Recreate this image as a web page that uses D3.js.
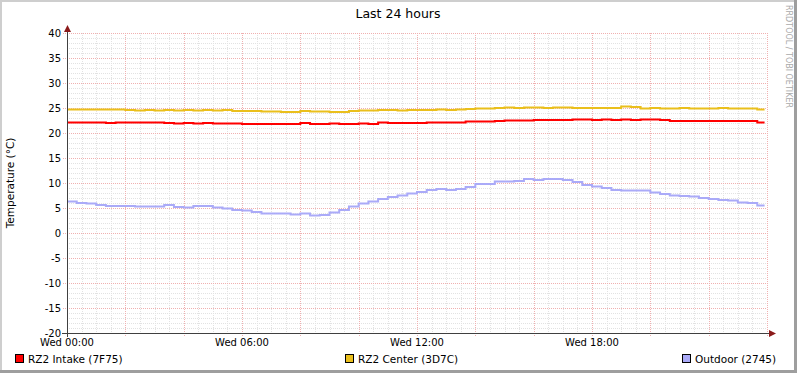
<!DOCTYPE html>
<html>
<head>
<meta charset="utf-8">
<script src="https://cdn.jsdelivr.net/npm/d3@7"></script>
<style>
  body { margin: 0; background: #fff; }
  text { font-family: "DejaVu Sans", sans-serif; }
</style>
</head>
<body>
<div id="chart"></div>
<script>
let width = 797,
  height = 373;

// readings every 20 minutes, starting Wed 00:00
let intake = [22.1, 22.1, 22.1, 22.1, 22.0, 22.1, 22.1, 22.1, 22.1, 22.1,
  22.0, 21.9, 22.0, 21.9, 22.0, 21.9, 21.9, 21.9, 21.8, 21.8,
  21.8, 21.8, 21.8, 21.8, 22.0, 21.8, 21.8, 21.9, 21.8, 21.8,
  21.9, 21.8, 22.1, 22.0, 22.0, 22.0, 22.0, 22.1, 22.1, 22.1,
  22.1, 22.3, 22.3, 22.3, 22.4, 22.5, 22.5, 22.5, 22.6, 22.6,
  22.6, 22.6, 22.7, 22.7, 22.6, 22.7, 22.6, 22.7, 22.6, 22.7,
  22.7, 22.6, 22.4, 22.4, 22.4, 22.4, 22.4, 22.4, 22.4, 22.4,
  22.4, 22.1];

let center = [24.7, 24.7, 24.7, 24.7, 24.7, 24.7, 24.6, 24.5, 24.6, 24.5,
  24.6, 24.5, 24.6, 24.5, 24.6, 24.5, 24.6, 24.4, 24.4, 24.4,
  24.3, 24.3, 24.2, 24.2, 24.4, 24.3, 24.3, 24.2, 24.2, 24.4,
  24.5, 24.5, 24.6, 24.6, 24.5, 24.6, 24.6, 24.6, 24.7, 24.6,
  24.7, 24.8, 24.9, 24.9, 25.0, 25.1, 25.0, 25.1, 25.1, 25.0,
  25.1, 25.1, 25.0, 25.0, 25.0, 25.0, 25.0, 25.3, 25.2, 24.9,
  25.0, 24.9, 24.9, 25.0, 24.9, 24.9, 24.9, 25.0, 24.9, 24.9,
  24.9, 24.7];

let outdoor = [6.3, 6.0, 5.9, 5.6, 5.4, 5.4, 5.4, 5.3, 5.3, 5.3,
  5.6, 5.2, 5.1, 5.4, 5.4, 5.1, 4.9, 4.6, 4.5, 4.2,
  3.9, 3.9, 3.9, 3.7, 3.9, 3.5, 3.6, 4.1, 4.6, 5.3,
  5.9, 6.3, 6.8, 7.2, 7.5, 7.9, 8.2, 8.6, 8.8, 8.6,
  8.8, 9.2, 9.8, 9.8, 10.3, 10.3, 10.4, 10.8, 10.6, 10.8,
  10.8, 10.6, 10.2, 9.6, 9.3, 9.0, 8.6, 8.5, 8.5, 8.5,
  8.1, 7.8, 7.5, 7.4, 7.3, 7.0, 6.8, 6.6, 6.5, 6.1,
  6.0, 5.5];

let seriesNames = ["RZ2 Intake (7F75)", "RZ2 Center (3D7C)", "Outdoor (2745)"];
let seriesColors = ["#ff0000", "#eabf1c", "#aaaaf8"];
let yTicks = [-20, -15, -10, -5, 0, 5, 10, 15, 20, 25, 30, 35, 40];

let start = new Date(2024, 0, 3, 0, 0);   // a Wednesday
let end = d3.timeHour.offset(start, 24);
let step = 20; // minutes

let svg = d3.select("#chart")
  .append("svg")
  .attr("width", width)
  .attr("height", height);

// frame
svg.append("rect").attr("width", width).attr("height", height).attr("fill", "#fff");
svg.append("rect").attr("x", 0).attr("y", 0).attr("width", width).attr("height", 2).attr("fill", "#cecece");
svg.append("rect").attr("x", 0).attr("y", 0).attr("width", 2).attr("height", height).attr("fill", "#cecece");
svg.append("rect").attr("x", 0).attr("y", height - 3).attr("width", width).attr("height", 3).attr("fill", "#9e9e9e");
svg.append("rect").attr("x", width - 3).attr("y", 0).attr("width", 3).attr("height", height).attr("fill", "#9e9e9e");

let x = d3.scaleTime()
  .domain([start, end])
  .range([67, 767]);

let y = d3.scaleLinear()
  .domain([-20, 40])
  .range([333, 33]);

let px = v => Math.round(v) + 0.5;

// grid
let grid = svg.append("g").attr("shape-rendering", "crispEdges");
grid.selectAll(".hminor")
  .data(d3.range(-20, 41, 1).filter(v => v % 5 != 0))
  .join("line")
  .attr("x1", 67).attr("x2", 767)
  .attr("y1", d => px(y(d))).attr("y2", d => px(y(d)))
  .attr("stroke", "#e2e2e2")
  .attr("stroke-dasharray", "1,1");

grid.selectAll(".vminor")
  .data(x.ticks(d3.timeMinute.every(30)).filter(d => d.getHours() % 2 != 0 || d.getMinutes() != 0))
  .join("line")
  .attr("x1", d => px(x(d))).attr("x2", d => px(x(d)))
  .attr("y1", 33).attr("y2", 333)
  .attr("stroke", "#e2e2e2")
  .attr("stroke-dasharray", "1,1");

grid.selectAll(".hmajor")
  .data(yTicks)
  .join("line")
  .attr("x1", 63).attr("x2", 767)
  .attr("y1", d => px(y(d))).attr("y2", d => px(y(d)))
  .attr("stroke", "#f0b0b0")
  .attr("stroke-dasharray", "1,1");

grid.selectAll(".vmajor")
  .data(x.ticks(d3.timeHour.every(2)))
  .join("line")
  .attr("x1", d => px(x(d))).attr("x2", d => px(x(d)))
  .attr("y1", 33).attr("y2", 337)
  .attr("stroke", "#f0b0b0")
  .attr("stroke-dasharray", "1,1");

// lines
let line = d3.line()
  .x(d => x(d.t))
  .y(d => y(d.v))
  .curve(d3.curveStepAfter);

let lineEnd = d3.timeMinute.offset(end, -5);

[intake, center, outdoor].forEach((vals, k) => {
  let pts = vals.map((v, i) => ({ t: d3.timeMinute.offset(start, i * step), v: v }));
  pts.push({ t: lineEnd, v: vals[vals.length - 1] });
  svg.append("path")
    .datum(pts)
    .attr("fill", "none")
    .attr("stroke", seriesColors[k])
    .attr("stroke-width", 2)
    .attr("d", line);
});

// axes
svg.append("line")
  .attr("x1", 67.5).attr("x2", 67.5)
  .attr("y1", 337).attr("y2", 30)
  .attr("stroke", "#404040");
svg.append("line")
  .attr("x1", 62).attr("x2", 771)
  .attr("y1", 333.5).attr("y2", 333.5)
  .attr("stroke", "#404040");
svg.append("path")
  .attr("d", "M64,32 L71,32 L67.5,25 Z")
  .attr("fill", "#8b1a1a");
svg.append("path")
  .attr("d", "M769,330 L769,337 L776,333.5 Z")
  .attr("fill", "#8b1a1a");

// y tick labels
svg.selectAll(".ylab")
  .data(yTicks)
  .join("text")
  .attr("x", 61)
  .attr("y", d => y(d) + 3.5)
  .attr("text-anchor", "end")
  .style("font-size", "10px")
  .attr("fill", "#000")
  .text(d => d);

// x tick labels
let fmt = d3.timeFormat("%a %H:%M");
svg.selectAll(".xlab")
  .data(x.ticks(d3.timeHour.every(6)).filter(d => d < end))
  .join("text")
  .attr("x", d => x(d))
  .attr("y", 345.5)
  .attr("text-anchor", "middle")
  .style("font-size", "10px")
  .attr("fill", "#000")
  .text(d => fmt(d));

// title
svg.append("text")
  .attr("x", 398)
  .attr("y", 18)
  .attr("text-anchor", "middle")
  .style("font-size", "12.5px")
  .text("Last 24 hours");

svg.append("text")
  .attr("transform", "translate(14,183) rotate(-90)")
  .attr("text-anchor", "middle")
  .style("font-size", "10.5px")
  .text("Temperature (°C)");

svg.append("text")
  .attr("transform", "translate(786,5) rotate(90)")
  .style("font-size", "8px")
  .attr("fill", "#aaaaaa")
  .text("RRDTOOL / TOBI OETIKER");

// legend
let legX = [15, 345, 682];
let leg = svg.selectAll(".leg")
  .data(seriesNames)
  .join("g")
  .attr("transform", (d, i) => `translate(${legX[i]},354)`);
leg.append("rect")
  .attr("x", 0.5).attr("y", 0.5)
  .attr("width", 8).attr("height", 8)
  .attr("fill", (d, i) => seriesColors[i])
  .attr("stroke", "#000");
leg.append("text")
  .attr("x", 13)
  .attr("y", 8.5)
  .style("font-size", "10.5px")
  .text(d => d);
</script>
</body>
</html>
